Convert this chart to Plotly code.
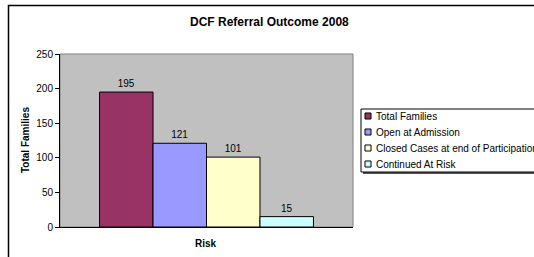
import plotly.graph_objects as go

# ---- data ----
categories = ["Total Families", "Open at Admission",
              "Closed Cases at end of Participation", "Continued At Risk"]
values = [195, 121, 101, 15]
colors = ["#993366", "#9999FF", "#FFFFCC", "#CCFFFF"]
x_category = [""]
y_ticks = [0, 50, 100, 150, 200, 250]
title_text = "DCF Referral Outcome 2008"
y_title = "Total Families"
x_title = "Risk"

W, H = 534, 257
L, R, T, B = 60, 353, 54, 227  # plot area in pixels
PW, PH = R - L, B - T


def px(X):
    return (X - L) / PW


def py(Y):
    return (B - Y) / PH


FONT = "Arial, Liberation Sans, sans-serif"

fig = go.Figure()
for name, v, c in zip(categories, values, colors):
    fig.add_trace(go.Bar(
        name=name, x=x_category, y=[v],
        marker=dict(color=c, line=dict(color="black", width=1)),
        text=[str(v)], textposition="outside",
        textfont=dict(family=FONT, size=10, color="black"),
        cliponaxis=False, showlegend=False, hoverinfo="skip",
    ))

shapes = []
annotations = []

# outer chart frame
shapes.append(dict(type="rect", xref="paper", yref="paper",
                   x0=px(8.5), x1=px(700), y0=py(5.5), y1=py(400),
                   line=dict(color="black", width=1.5), layer="below"))
# plot area border (gray)
shapes.append(dict(type="rect", xref="paper", yref="paper",
                   x0=0, x1=1, y0=0, y1=1,
                   line=dict(color="#808080", width=1), layer="below"))

# manual legend
shapes.append(dict(type="rect", xref="paper", yref="paper",
                   x0=px(363), x1=px(700), y0=py(111), y1=py(174),
                   line=dict(width=0), fillcolor="#555555", layer="above"))
shapes.append(dict(type="rect", xref="paper", yref="paper",
                   x0=px(361), x1=px(700), y0=py(109), y1=py(172),
                   line=dict(color="black", width=1), fillcolor="white", layer="above"))
for i, (name, c) in enumerate(zip(categories, colors)):
    yc = 116 + 16 * i
    shapes.append(dict(type="rect", xref="paper", yref="paper",
                       x0=px(365), x1=px(371), y0=py(yc - 3), y1=py(yc + 3),
                       line=dict(color="black", width=1), fillcolor=c, layer="above"))
    annotations.append(dict(xref="paper", yref="paper", x=px(374), y=py(yc),
                            xanchor="left", yanchor="middle", text=name,
                            showarrow=False,
                            font=dict(family=FONT, size=10, color="black")))

# title and axis titles
annotations.append(dict(xref="paper", yref="paper", x=px(269.5), y=py(22),
                        xanchor="center", yanchor="middle",
                        text="<b>" + title_text + "</b>", showarrow=False,
                        font=dict(family=FONT, size=12, color="black")))
annotations.append(dict(xref="paper", yref="paper", x=px(25), y=py(140),
                        xanchor="center", yanchor="middle", textangle=-90,
                        text="<b>" + y_title + "</b>", showarrow=False,
                        font=dict(family=FONT, size=10, color="black")))
annotations.append(dict(xref="paper", yref="paper", x=px(206), y=py(243),
                        xanchor="center", yanchor="middle",
                        text="<b>" + x_title + "</b>", showarrow=False,
                        font=dict(family=FONT, size=10, color="black")))

fig.update_layout(
    width=W, height=H,
    margin=dict(l=L, r=W - R, t=T, b=H - B, pad=0, autoexpand=False),
    paper_bgcolor="white", plot_bgcolor="#C0C0C0",
    barmode="group", bargap=0.27, bargroupgap=0,
    showlegend=False,
    shapes=shapes, annotations=annotations,
    font=dict(family=FONT, size=10, color="black"),
)
fig.update_xaxes(showticklabels=False, ticks="", showgrid=False,
                 showline=True, linecolor="black", linewidth=1, zeroline=False)
fig.update_yaxes(range=[0, 250], tickvals=y_ticks, ticks="outside", ticklen=4,
                 tickcolor="black", showgrid=False, showline=True,
                 linecolor="black", linewidth=1, zeroline=False,
                 tickfont=dict(family=FONT, size=10, color="black"))

fig.write_html(
    "out.html",
    config={"displayModeBar": False},
    post_script="document.body.style.margin='0';document.body.style.overflow='hidden';",
)
